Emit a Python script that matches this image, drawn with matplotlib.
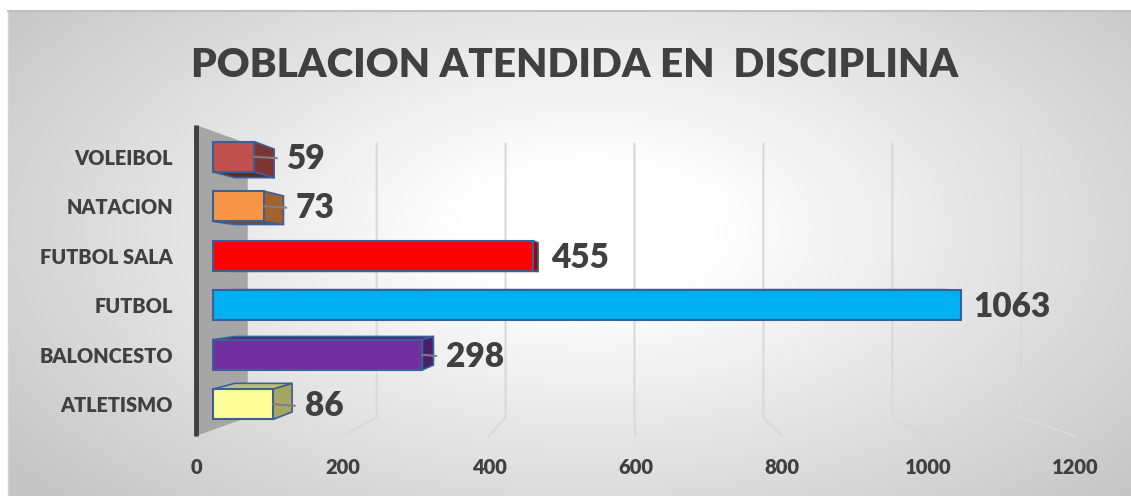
import numpy as np
import matplotlib.pyplot as plt
from matplotlib.patches import Polygon
from matplotlib.colors import to_rgb
from matplotlib.transforms import offset_copy

categories = ['ATLETISMO', 'BALONCESTO', 'FUTBOL', 'FUTBOL SALA', 'NATACION', 'VOLEIBOL']
values = [86, 298, 1063, 455, 73, 59]
colors = ['#ffff99', '#7030a0', '#00b0f0', '#ff0000', '#f79646', '#c0504d']
ticks = [0, 200, 400, 600, 800, 1000, 1200]
title = 'POBLACION ATENDIDA EN  DISCIPLINA'

plt.rcParams['font.family'] = ['Lato', 'DejaVu Sans']
txt_color = '#404040'
edge = '#3b5f97'
weight = 'heavy'

W, H = 1131, 496
fig = plt.figure(figsize=(W / 100, H / 100), dpi=100)

# background with radial gradient (excel style chart area)
bg = fig.add_axes([0, 0, 1, 1], zorder=0)
bg.set_xlim(0, W)
bg.set_ylim(H, 0)
bg.axis('off')
yy, xx = np.mgrid[11:H, 8:W]
r = np.sqrt(((xx - 590) / 620.0) ** 2 + ((yy - 230) / 330.0) ** 2)
g = 1 - 0.23 * np.clip((r - 0.2) / 1.0, 0, 1)
bg.imshow(np.dstack([g, g, g]), extent=(8, W, H, 11), aspect='auto', interpolation='bilinear')
bg.plot([8, W], [11, 11], color='#c0c0c0', lw=1.5)
bg.plot([8, 8], [11, H], color='#d4d4d4', lw=1)

ax = fig.add_axes([196 / W, (H - 436) / H, 879 / W, 311 / H], zorder=1)
ax.set_xlim(0, 1200)
ax.set_ylim(-0.52, 5.52)
ax.patch.set_alpha(0)
for s in ax.spines.values():
    s.set_visible(False)

# simple perspective: depth 0 = front floor, 1 = back wall
VX, VY, K = 588.4, 2.5, 0.12


def proj(v, c, d):
    f = 1 - K * d
    return VX + (v - VX) * f, VY + (c - VY) * f


def shade(c, k):
    return tuple(np.array(to_rgb(c)) * k)


y0, y1 = ax.get_ylim()
wall = [proj(0, y0, 0), proj(0, y1, 0), proj(0, y1, 1), proj(0, y0, 1)]
ax.add_patch(Polygon(wall, closed=True, fc='#a6a6a6', ec='none', clip_on=False, zorder=1))
ax.plot(*zip(proj(0, y0, 0), proj(0, y1, 0)), color='#404040', lw=3.5,
        clip_on=False, zorder=2, solid_capstyle='butt')

for v in ticks[1:]:
    pts = [proj(v, y1, 1), proj(v, y0, 1), proj(v, y0, 0)]
    ax.plot(*zip(*pts), color='#d9d9d9', lw=1.5, clip_on=False, zorder=1)

D0, D1, HH = 0.32, 0.75, 0.305
centers = []
for i, (val, col) in enumerate(zip(values, colors)):
    def P(v, dc, d):
        return proj(v, i + dc, d)
    if i + HH < VY:
        face = [P(0, HH, D0), P(val, HH, D0), P(val, HH, D1), P(0, HH, D1)]
        ax.add_patch(Polygon(face, fc=shade(col, 0.75), ec=edge, lw=1.2, zorder=3, clip_on=False))
    elif i - HH > VY:
        face = [P(0, -HH, D0), P(val, -HH, D0), P(val, -HH, D1), P(0, -HH, D1)]
        ax.add_patch(Polygon(face, fc=shade(col, 0.5), ec=edge, lw=1.2, zorder=3, clip_on=False))
    if val < VX:
        side = [P(val, -HH, D0), P(val, HH, D0), P(val, HH, D1), P(val, -HH, D1)]
        ax.add_patch(Polygon(side, fc=shade(col, 0.65), ec=edge, lw=1.2, zorder=4, clip_on=False))
    front = [P(0, -HH, D0), P(val, -HH, D0), P(val, HH, D0), P(0, HH, D0)]
    ax.add_patch(Polygon(front, fc=col, ec=edge, lw=1.5, zorder=5, clip_on=False))

    xf, yc = P(val, 0, D0)
    centers.append(P(0, 0, D0)[1])
    end_x = max(xf, P(val, 0, D1)[0])
    tr = offset_copy(ax.transData, fig=fig, x=9, y=-1.5, units='points')
    props = None
    if val < 400:
        props = dict(arrowstyle='-', color='#7f7f7f', lw=1.5, shrinkA=5, shrinkB=0,
                     relpos=(0, 0.5))
    ax.annotate(str(val), xy=(xf, yc), xytext=(end_x, yc), textcoords=tr,
                ha='left', va='center', fontsize=24, fontweight=weight, color=txt_color,
                arrowprops=props, zorder=6, annotation_clip=False)

ax.set_yticks(centers, categories)
ax.set_xticks(ticks, [str(t) for t in ticks])
ax.tick_params(axis='y', length=0, pad=16.5, labelsize=14.3, labelcolor=txt_color)
ax.tick_params(axis='x', length=0, pad=16, labelsize=14.5, labelcolor=txt_color)
for lab in ax.get_yticklabels() + ax.get_xticklabels():
    lab.set_fontweight(weight)

t = fig.text(575 / W, 1 - 77 / H, title, ha='center', va='baseline',
             fontsize=30, fontweight=weight, color=txt_color)
fig.canvas.draw()
w = t.get_window_extent().width
t.set_fontsize(30 * 764 / w)

fig.savefig('out.png', dpi=100)
